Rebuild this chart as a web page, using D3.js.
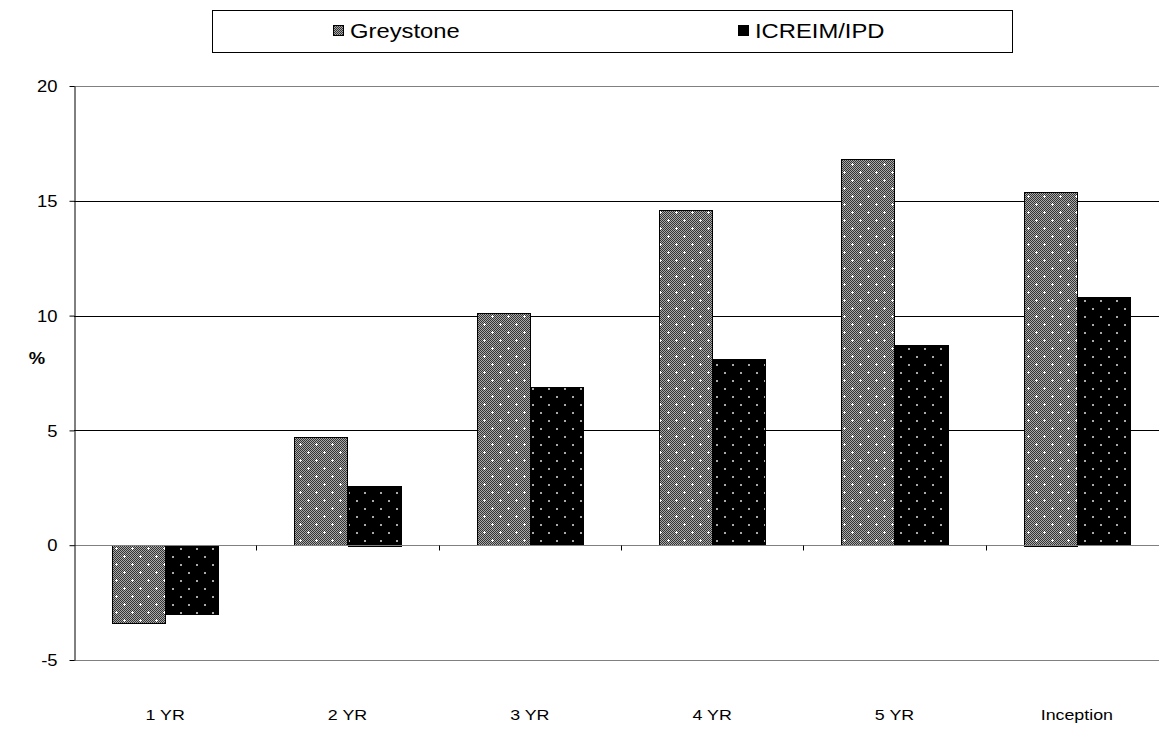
<!DOCTYPE html>
<html><head><meta charset="utf-8">
<script src="https://cdn.jsdelivr.net/npm/d3@7/dist/d3.min.js"></script>
<style>
body{margin:0;background:#fff;overflow:hidden;}
text{font-family:"Liberation Sans",Arial,sans-serif;fill:#000;}
</style></head>
<body><svg id="c" width="1159" height="755"></svg>
<script>
const categories = ["1 YR","2 YR","3 YR","4 YR","5 YR","Inception"];
const seriesNames = ["Greystone","ICREIM/IPD"];
const greystone = [-3.4, 4.7, 10.1, 14.6, 16.8, 15.4];
const icreim = [-3.0, 2.6, 6.9, 8.1, 8.7, 10.8];
const yTicks = [-5, 0, 5, 10, 15, 20];

const SX = 1.15;

const svg = d3.select("#c");
const defs = svg.append("defs");

const p1 = defs.append("pattern").attr("id","pg").attr("patternUnits","userSpaceOnUse")
  .attr("width",16).attr("height",16);
p1.append("rect").attr("width",16).attr("height",16).attr("fill","#a8a8a8").attr("shape-rendering","crispEdges");
let cpath = "";
for (let i=0;i<16;i++) for (let j=0;j<16;j++) if ((i+j)%2===0) cpath += `M${i},${j}h1v1h-1z`;
p1.append("path").attr("d",cpath).attr("fill","#333").attr("shape-rendering","crispEdges");
[[4,4],[12,12]].forEach(([cx,cy])=>{
  p1.append("rect").attr("x",cx-1).attr("y",cy).attr("width",3).attr("height",1).attr("fill","#fff").attr("shape-rendering","crispEdges");
  p1.append("rect").attr("x",cx).attr("y",cy-1).attr("width",1).attr("height",3).attr("fill","#fff").attr("shape-rendering","crispEdges");
});
const p2 = defs.append("pattern").attr("id","pi").attr("patternUnits","userSpaceOnUse")
  .attr("width",16).attr("height",16);
p2.append("rect").attr("width",16).attr("height",16).attr("fill","#000").attr("shape-rendering","crispEdges");
[[4,4],[12,12]].forEach(([cx,cy])=>{
  p2.append("rect").attr("x",cx).attr("y",cy).attr("width",2).attr("height",2).attr("fill","#aaa").attr("shape-rendering","crispEdges");
});
const fills = {"Greystone":"url(#pg)","ICREIM/IPD":"url(#pi)"};

const x0 = d3.scaleBand().domain(categories).range([74,1168]).padding(0);
const x1 = d3.scaleBand().domain(seriesNames).range([0,x0.bandwidth()]).paddingInner(0).paddingOuter(0.72);
const y = d3.scaleLinear().domain([-5,20]).range([660,86]);

svg.append("g").selectAll("line").data(yTicks.filter(t=>t!==0)).join("line")
  .attr("x1",74).attr("x2",1159)
  .attr("y1",d=>Math.round(y(d))+0.5).attr("y2",d=>Math.round(y(d))+0.5)
  .attr("stroke",d=>(d===20||d===-5)?"#808080":"#000").attr("stroke-width",1);

const data = categories.map((c,i)=>({cat:c, vals:[{s:"Greystone",v:greystone[i]},{s:"ICREIM/IPD",v:icreim[i]}]}));
const g = svg.append("g");
data.forEach(d=>{
  d.vals.forEach(e=>{
    const x = x0(d.cat)+x1(e.s);
    const yy = Math.min(y(e.v), y(0));
    const h = Math.abs(y(e.v)-y(0));
    g.append("rect").attr("x",Math.round(x)+0.5).attr("y",Math.round(yy)+0.5)
      .attr("width",Math.round(x1.bandwidth())).attr("height",Math.round(h))
      .attr("fill",fills[e.s]).attr("stroke","#000").attr("stroke-width",1);
  });
});

const xa = svg.append("g").attr("transform",`translate(0,${Math.round(y(0))+0.5})`);
xa.append("line").attr("x1",74).attr("x2",1159).attr("stroke","#808080");
xa.selectAll("line.t").data(categories.slice(1)).join("line").attr("class","t")
  .attr("x1",d=>Math.round(x0(d))+0.5).attr("x2",d=>Math.round(x0(d))+0.5)
  .attr("y1",0).attr("y2",5).attr("stroke","#000");

const ya = svg.append("g").attr("transform","translate(74.5,0)")
  .call(d3.axisLeft(y).tickValues(yTicks).tickSize(5).tickSizeOuter(0).tickFormat(d=>String(d)));
ya.select(".domain").attr("stroke","#000");
ya.selectAll(".tick line").attr("stroke","#000");
ya.selectAll(".tick text").attr("font-size",16).attr("x",-17/SX).attr("dy","0.35em")
  .attr("transform",`scale(${SX},1)`).attr("font-family","Liberation Sans, Arial, sans-serif");

svg.append("text").attr("transform",`translate(37,364) scale(${SX},1)`).attr("text-anchor","middle")
  .attr("font-size",16).attr("font-weight","bold").text("%");

svg.append("g").selectAll("text").data(categories).join("text")
  .attr("transform",d=>`translate(${x0(d)+x0.bandwidth()/2},720) scale(${SX},1)`)
  .attr("text-anchor","middle").attr("font-size",15.5).text(d=>d);

const lg = svg.append("g");
lg.append("rect").attr("x",212.5).attr("y",10.5).attr("width",800).attr("height",42)
  .attr("fill","#fff").attr("stroke","#000");
const legendPos = [{s:"Greystone",x:333},{s:"ICREIM/IPD",x:738}];
legendPos.forEach(l=>{
  lg.append("rect").attr("x",l.x+0.5).attr("y",25.5).attr("width",10).attr("height",10)
    .attr("fill",fills[l.s]).attr("stroke","#000");
  lg.append("text").attr("transform",`translate(${l.x+17},38) scale(1.22,1)`)
    .attr("font-size",19.5).text(l.s);
});
</script></body></html>
